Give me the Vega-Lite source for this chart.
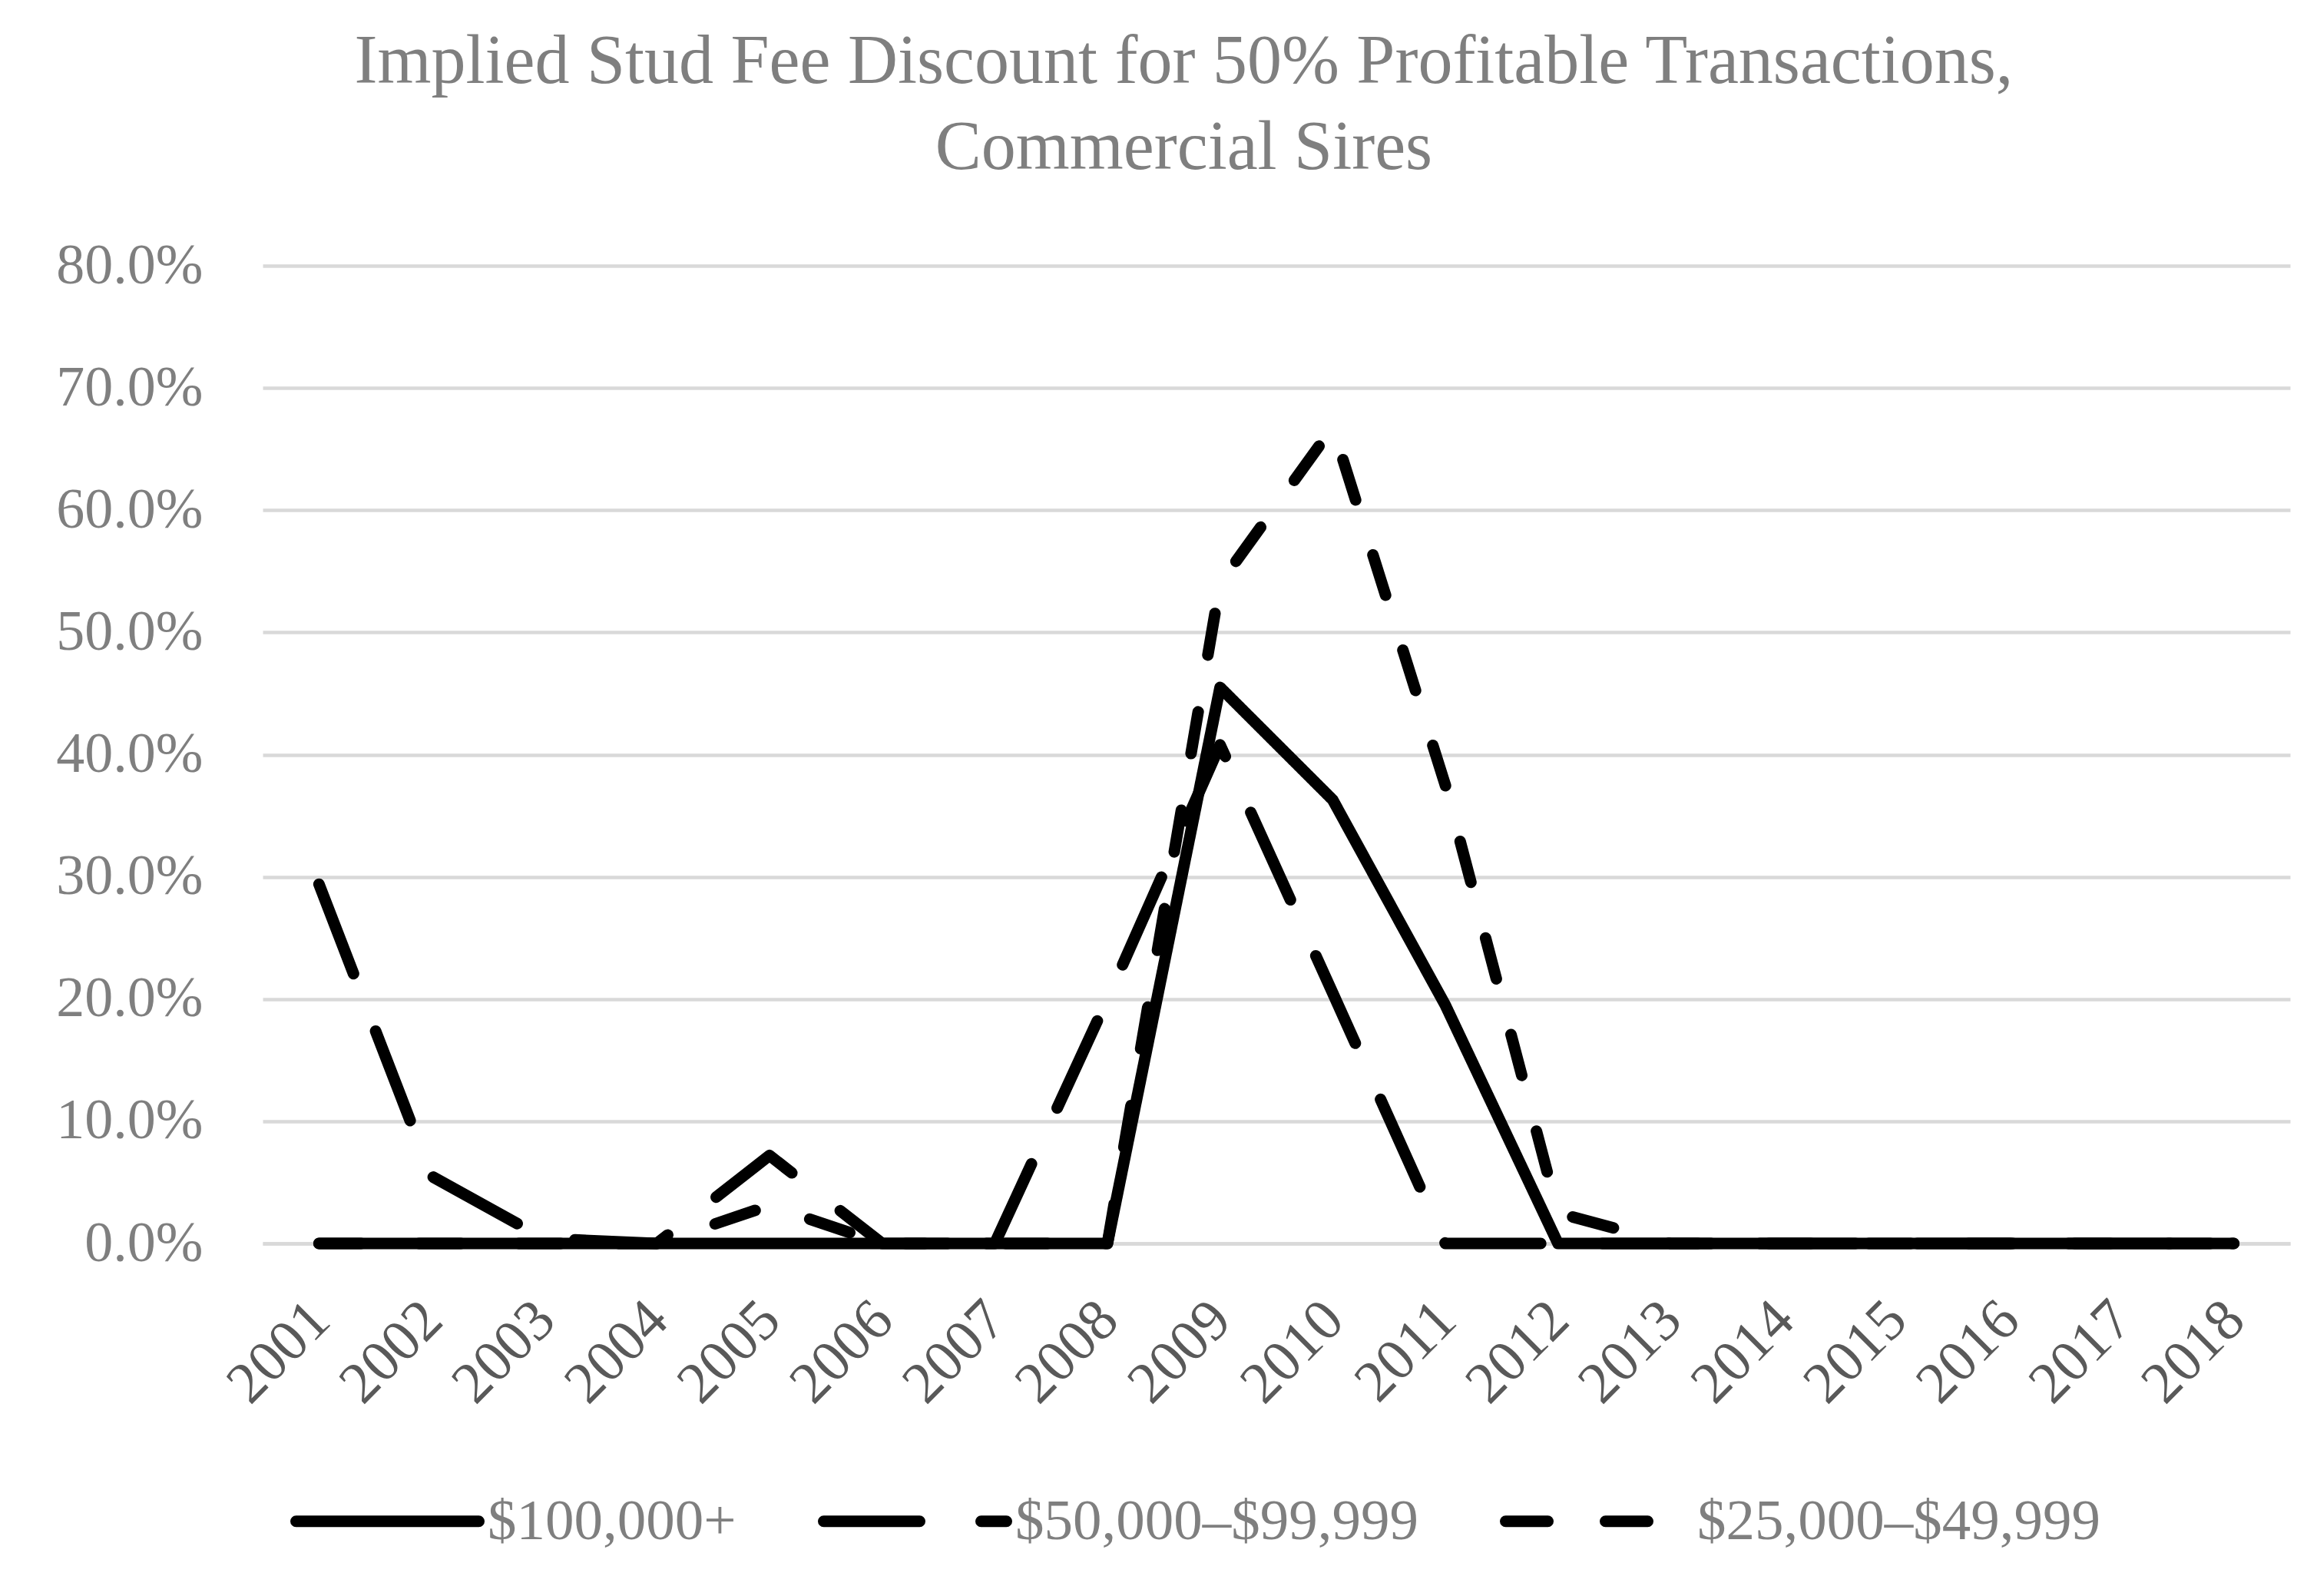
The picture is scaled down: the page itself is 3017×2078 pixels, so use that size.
{
  "$schema": "https://vega.github.io/schema/vega-lite/v6.json",
  "autosize": {"type": "none"},
  "width": 2640,
  "height": 1273,
  "padding": {"left": 342, "top": 346, "right": 35, "bottom": 459},
  "background": "white",
  "title": {
    "text": ["Implied Stud Fee Discount for 50% Profitable Transactions,", "Commercial Sires"],
    "font": "Liberation Serif",
    "fontSize": 90,
    "fontWeight": "normal",
    "color": "#7f7f7f",
    "lineHeight": 112,
    "anchor": "middle",
    "frame": "bounds",
    "offset": 70,
    "dx": 14
  },
  "data": {
    "values": [
      {"year": "2001", "series": "$100,000+", "value": 0},
      {"year": "2002", "series": "$100,000+", "value": 0},
      {"year": "2003", "series": "$100,000+", "value": 0},
      {"year": "2004", "series": "$100,000+", "value": 0},
      {"year": "2005", "series": "$100,000+", "value": 0},
      {"year": "2006", "series": "$100,000+", "value": 0},
      {"year": "2007", "series": "$100,000+", "value": 0},
      {"year": "2008", "series": "$100,000+", "value": 0},
      {"year": "2009", "series": "$100,000+", "value": 0.455},
      {"year": "2010", "series": "$100,000+", "value": 0.363},
      {"year": "2011", "series": "$100,000+", "value": 0.195},
      {"year": "2012", "series": "$100,000+", "value": 0},
      {"year": "2013", "series": "$100,000+", "value": 0},
      {"year": "2014", "series": "$100,000+", "value": 0},
      {"year": "2015", "series": "$100,000+", "value": 0},
      {"year": "2016", "series": "$100,000+", "value": 0},
      {"year": "2017", "series": "$100,000+", "value": 0},
      {"year": "2018", "series": "$100,000+", "value": 0},
      {"year": "2001", "series": "$50,000–$99,999", "value": 0.294},
      {"year": "2002", "series": "$50,000–$99,999", "value": 0.055},
      {"year": "2003", "series": "$50,000–$99,999", "value": 0.004},
      {"year": "2004", "series": "$50,000–$99,999", "value": 0},
      {"year": "2005", "series": "$50,000–$99,999", "value": 0.072},
      {"year": "2006", "series": "$50,000–$99,999", "value": 0},
      {"year": "2007", "series": "$50,000–$99,999", "value": 0},
      {"year": "2008", "series": "$50,000–$99,999", "value": 0.2},
      {"year": "2009", "series": "$50,000–$99,999", "value": 0.408},
      {"year": "2010", "series": "$50,000–$99,999", "value": 0.205},
      {"year": "2011", "series": "$50,000–$99,999", "value": 0},
      {"year": "2012", "series": "$50,000–$99,999", "value": 0},
      {"year": "2013", "series": "$50,000–$99,999", "value": 0},
      {"year": "2014", "series": "$50,000–$99,999", "value": 0},
      {"year": "2015", "series": "$50,000–$99,999", "value": 0},
      {"year": "2016", "series": "$50,000–$99,999", "value": 0},
      {"year": "2017", "series": "$50,000–$99,999", "value": 0},
      {"year": "2018", "series": "$50,000–$99,999", "value": 0},
      {"year": "2001", "series": "$25,000–$49,999", "value": 0},
      {"year": "2002", "series": "$25,000–$49,999", "value": 0},
      {"year": "2003", "series": "$25,000–$49,999", "value": 0},
      {"year": "2004", "series": "$25,000–$49,999", "value": 0},
      {"year": "2005", "series": "$25,000–$49,999", "value": 0.031},
      {"year": "2006", "series": "$25,000–$49,999", "value": 0},
      {"year": "2007", "series": "$25,000–$49,999", "value": 0},
      {"year": "2008", "series": "$25,000–$49,999", "value": 0},
      {"year": "2009", "series": "$25,000–$49,999", "value": 0.54},
      {"year": "2010", "series": "$25,000–$49,999", "value": 0.668},
      {"year": "2011", "series": "$25,000–$49,999", "value": 0.375},
      {"year": "2012", "series": "$25,000–$49,999", "value": 0.025},
      {"year": "2013", "series": "$25,000–$49,999", "value": 0},
      {"year": "2014", "series": "$25,000–$49,999", "value": 0},
      {"year": "2015", "series": "$25,000–$49,999", "value": 0},
      {"year": "2016", "series": "$25,000–$49,999", "value": 0},
      {"year": "2017", "series": "$25,000–$49,999", "value": 0},
      {"year": "2018", "series": "$25,000–$49,999", "value": 0}
    ]
  },
  "mark": {
    "type": "line",
    "color": "black",
    "strokeWidth": 15,
    "strokeCap": "round",
    "strokeJoin": "round"
  },
  "encoding": {
    "x": {
      "field": "year",
      "type": "ordinal",
      "title": null,
      "scale": {"type": "point", "padding": 0.5},
      "axis": {
        "labelAngle": -45,
        "labelFont": "Liberation Serif",
        "labelFontSize": 76,
        "labelColor": "#595959",
        "labelPadding": 61,
        "labelOffset": -25,
        "ticks": false,
        "domain": true,
        "domainColor": "#d9d9d9",
        "domainWidth": 4.5,
        "grid": false
      }
    },
    "y": {
      "field": "value",
      "type": "quantitative",
      "title": null,
      "scale": {"domain": [0, 0.8], "nice": false},
      "axis": {
        "values": [0, 0.1, 0.2, 0.3, 0.4, 0.5, 0.6, 0.7, 0.8],
        "format": ".1%",
        "labelFont": "Liberation Serif",
        "labelFontSize": 74,
        "labelColor": "#7f7f7f",
        "labelPadding": 78,
        "labelLimit": 0,
        "ticks": false,
        "domain": false,
        "grid": true,
        "gridColor": "#d9d9d9",
        "gridWidth": 4.5
      }
    },
    "strokeDash": {
      "field": "series",
      "type": "nominal",
      "scale": {
        "domain": ["$100,000+", "$50,000–$99,999", "$25,000–$49,999"],
        "range": [[1, 0], [125, 80], [55, 75]]
      },
      "legend": {
        "title": null,
        "orient": "none",
        "legendX": 36,
        "legendY": 1508,
        "direction": "horizontal",
        "symbolType": "stroke",
        "symbolSize": 56644,
        "symbolStrokeWidth": 15,
        "symbolStrokeColor": "black",
        "labelFont": "Liberation Serif",
        "labelFontSize": 75,
        "labelColor": "#7f7f7f",
        "labelOffset": 4,
        "columnPadding": 83,
        "labelLimit": 0,
        "encode": {
          "symbols": {"update": {"strokeCap": {"value": "round"}}}
        }
      }
    }
  },
  "config": {
    "view": {"stroke": null}
  }
}
